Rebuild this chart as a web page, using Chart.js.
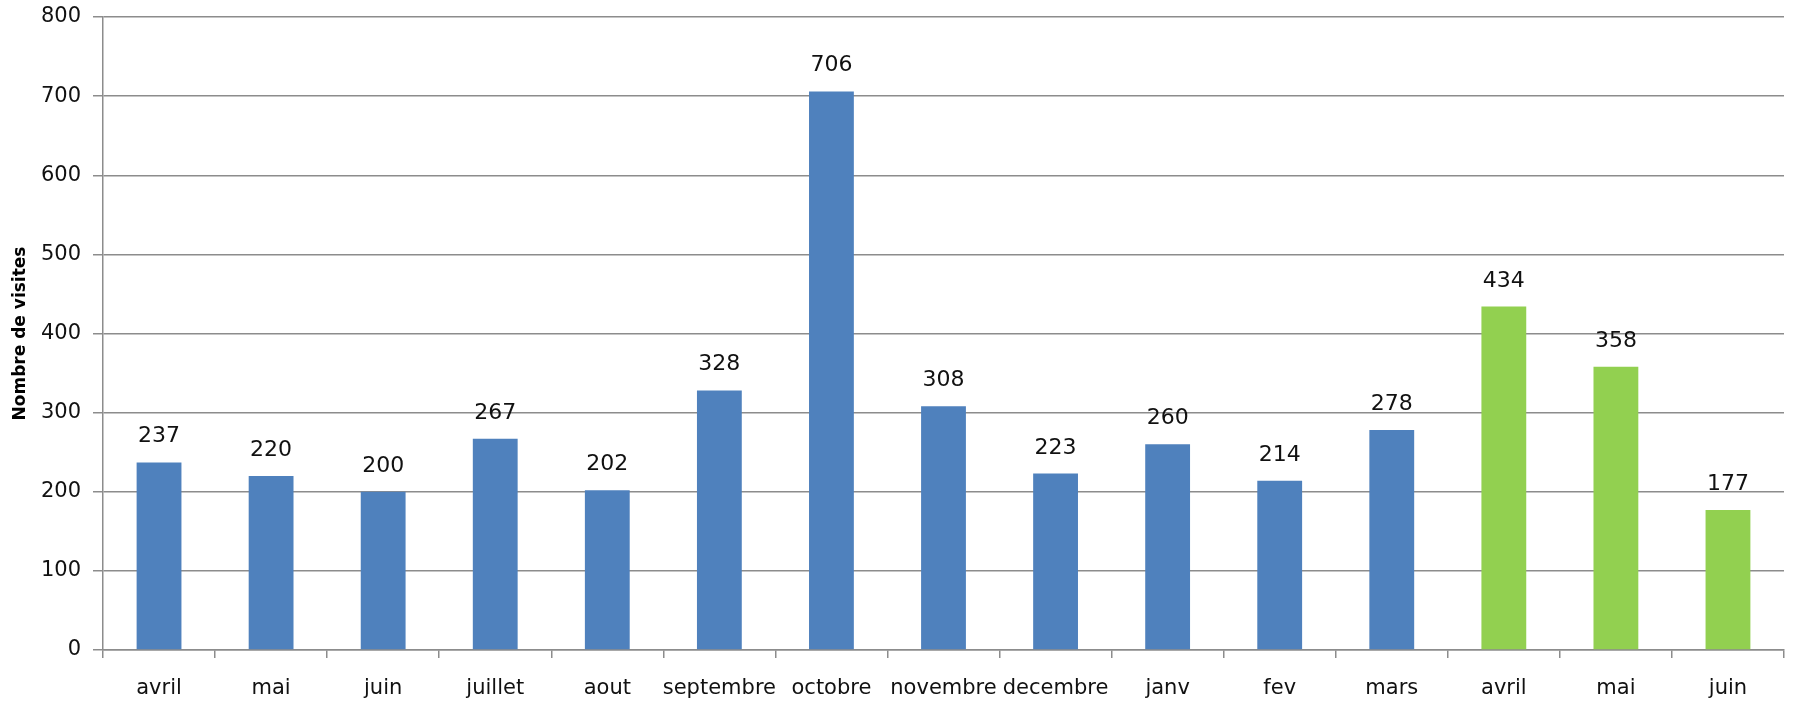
<!DOCTYPE html>
<html>
<head>
<meta charset="utf-8">
<script src="https://cdn.jsdelivr.net/npm/chart.js@4/dist/chart.umd.min.js"></script>
<style>
html,body{margin:0;padding:0;background:#fff;}
#wrap{width:1794px;height:704px;position:relative;}
</style>
</head>
<body>
<div id="wrap"><canvas id="c" width="1794" height="704"></canvas></div>
<script>
const categories = ["avril","mai","juin","juillet","aout","septembre","octobre","novembre","decembre","janv","fev","mars","avril","mai","juin"];
const visits = [237,220,200,267,202,328,706,308,223,260,214,278,434,358,177];
const barColors = ["#4f81bd","#4f81bd","#4f81bd","#4f81bd","#4f81bd","#4f81bd","#4f81bd","#4f81bd","#4f81bd","#4f81bd","#4f81bd","#4f81bd","#92d050","#92d050","#92d050"];
const yTitle = "Nombre de visites";

const valueLabels = {
  id: 'valueLabels',
  afterDatasetsDraw(chart) {
    const ctx = chart.ctx;
    const meta = chart.getDatasetMeta(0);
    ctx.save();
    ctx.font = '22px "DejaVu Sans", sans-serif';
    ctx.fillStyle = '#111';
    ctx.textAlign = 'center';
    ctx.textBaseline = 'alphabetic';
    meta.data.forEach((bar, i) => {
      ctx.fillText(String(chart.data.datasets[0].data[i]), bar.x, bar.y - 20);
    });
    ctx.restore();
  }
};

new Chart(document.getElementById('c'), {
  type: 'bar',
  data: {
    labels: categories,
    datasets: [{
      data: visits,
      backgroundColor: barColors,
      categoryPercentage: 1.0,
      barPercentage: 0.4
    }]
  },
  options: {
    responsive: false,
    animation: false,
    events: [],
    layout: { padding: { top: 17, right: 10, left: 10, bottom: 0 } },
    plugins: { legend: { display: false }, tooltip: { enabled: false } },
    scales: {
      x: {
        grid: { drawOnChartArea: false, drawTicks: true, tickLength: 8, color: '#8c8c8c', lineWidth: 1.5, offset: true },
        border: { color: '#8c8c8c', width: 1.5 },
        ticks: { color: '#111', font: { family: '"DejaVu Sans", sans-serif', size: 21 }, padding: 18, maxRotation: 0, autoSkip: false },
        afterFit(scale) { scale.height = 54; }
      },
      y: {
        min: 0, max: 800,
        ticks: { stepSize: 100, color: '#111', font: { family: '"DejaVu Sans", sans-serif', size: 21 }, padding: 12 },
        grid: { color: '#8c8c8c', lineWidth: 1.5, drawTicks: true, tickLength: 10 },
        border: { color: '#8c8c8c', width: 1.5 },
        title: { display: true, text: yTitle, color: '#000', font: { family: '"DejaVu Sans", sans-serif', size: 17, weight: 'bold' }, padding: 0 },
        afterFit(scale) { scale.width = 93; scale.paddingTop = 0; scale.paddingBottom = 0; }
      }
    }
  },
  plugins: [valueLabels]
});
</script>
</body>
</html>
